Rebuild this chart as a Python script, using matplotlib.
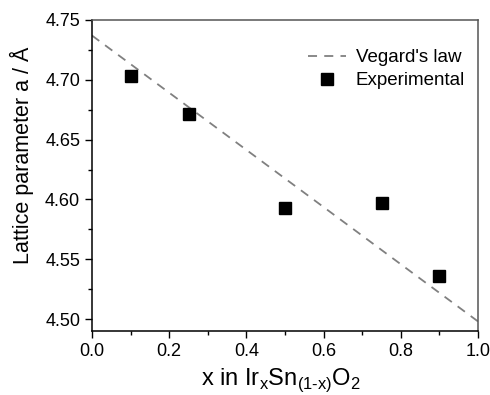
import matplotlib
matplotlib.use("Agg")
import matplotlib.pyplot as plt
from matplotlib.ticker import MultipleLocator

plt.rcParams['font.family'] = ['Liberation Sans', 'DejaVu Sans']

vegard_x = [0.0, 1.0]
vegard_y = [4.737, 4.498]
exp_x = [0.1, 0.25, 0.5, 0.75, 0.9]
exp_y = [4.703, 4.671, 4.593, 4.597, 4.536]

fig = plt.figure(figsize=(4.9, 3.95), dpi=100)
ax = fig.add_axes([92/490, 1 - 331/395, (478-92)/490, (331-20)/395])

ax.plot(vegard_x, vegard_y, linestyle=(0, (5, 4)), color='#808080', lw=1.3, label="Vegard's law")
ax.plot(exp_x, exp_y, linestyle='none', marker='s', ms=8.5, color='black', label='Experimental')

ax.set_xlim(0, 1.0)
ax.set_ylim(4.49, 4.75)
ax.xaxis.set_major_locator(MultipleLocator(0.2))
ax.xaxis.set_minor_locator(MultipleLocator(0.1))
ax.yaxis.set_major_locator(MultipleLocator(0.05))
ax.yaxis.set_minor_locator(MultipleLocator(0.025))
ax.tick_params(which='both', direction='out', top=False, right=False, labelsize=13)
ax.tick_params(which='major', length=5, width=1)
ax.tick_params(which='minor', length=3, width=1)
ax.xaxis.set_major_formatter(plt.FuncFormatter(lambda v, p: f"{v:.1f}"))
ax.yaxis.set_major_formatter(plt.FuncFormatter(lambda v, p: f"{v:.2f}"))
for s in ax.spines.values():
    s.set_linewidth(1.1)
ax.spines['right'].set_color('#555555')
ax.spines['top'].set_color('#555555')

ax.set_xlabel("x in Ir$_\\mathregular{x}$Sn$_\\mathregular{(1\u2010x)}$O$_\\mathregular{2}$", fontsize=17)
ax.xaxis.set_label_coords(0.49, -0.115)
ax.set_ylabel("Lattice parameter a / Å", fontsize=15.5)
ax.yaxis.set_label_coords(-0.15, 0.566)

ax.legend(loc='upper right', bbox_to_anchor=(0.986, 0.93), frameon=False, fontsize=13.5,
          handlelength=2.0, handletextpad=0.55, borderaxespad=0, labelspacing=0.3)

fig.savefig('out.png', dpi=100)
